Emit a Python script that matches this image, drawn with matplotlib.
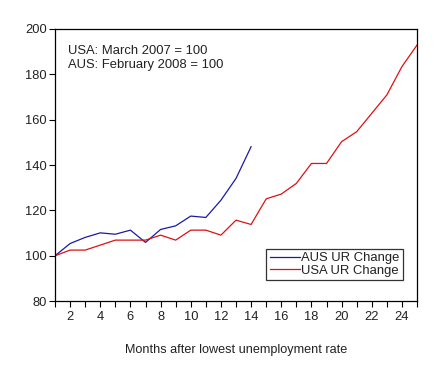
import matplotlib
matplotlib.use("Agg")
import matplotlib.pyplot as plt
from matplotlib.ticker import MultipleLocator

plt.rcParams['font.family'] = ['Liberation Sans', 'DejaVu Sans']

months = list(range(1, 26))
aus_months = list(range(1, 15))
aus_ur = [100, 105.4, 108.1, 110.1, 109.5, 111.3, 105.9, 111.6, 113.2,
          117.5, 116.9, 124.5, 134.1, 148.1]
usa_ur = [100, 102.5, 102.5, 104.7, 106.9, 106.9, 106.9, 109.1, 106.9,
          111.3, 111.3, 109.1, 115.7, 113.8, 125.1, 127.2, 131.9, 140.7,
          140.7, 150.3, 154.7, 162.8, 170.9, 183.4, 192.9]

fig = plt.figure(figsize=(4.48, 3.75), dpi=100)
ax = fig.add_axes([0.1228, 0.197, 0.808, 0.7257])

ax.plot(aus_months, aus_ur, color='#1a1aa6', lw=0.9, label='AUS UR Change')
ax.plot(months, usa_ur, color='#dd1111', lw=0.9, label='USA UR Change')

ax.set_xlim(1, 25)
ax.set_ylim(80, 200)
ax.xaxis.set_minor_locator(MultipleLocator(1))
ax.set_xticks(range(2, 25, 2))
ax.yaxis.set_major_locator(MultipleLocator(20))
ax.tick_params(axis='both', labelsize=9.3, direction='out', length=4, width=0.8,
               labelcolor='#222222')
ax.tick_params(axis='x', which='minor', direction='out', length=4, width=0.8)
ax.tick_params(axis='x', pad=3)
ax.tick_params(axis='y', pad=2)

for s in ax.spines.values():
    s.set_linewidth(0.9)

ax.set_xlabel('Months after lowest unemployment rate', fontsize=9.1,
              labelpad=15, color='#222222')

ax.text(0.036, 0.94, 'USA: March 2007 = 100\nAUS: February 2008 = 100',
        transform=ax.transAxes, fontsize=9.4, va='top', ha='left',
        linespacing=1.15, color='#222222')

leg = ax.legend(loc='lower right', bbox_to_anchor=(0.96, 0.077), fontsize=9.4,
                frameon=True, fancybox=False, edgecolor='black',
                handlelength=2.3, handletextpad=0.1, borderpad=0.25,
                labelspacing=0.05, borderaxespad=0)
leg.get_frame().set_linewidth(0.9)
for t in leg.get_texts():
    t.set_color('#222222')

fig.savefig('out.png', dpi=100)
